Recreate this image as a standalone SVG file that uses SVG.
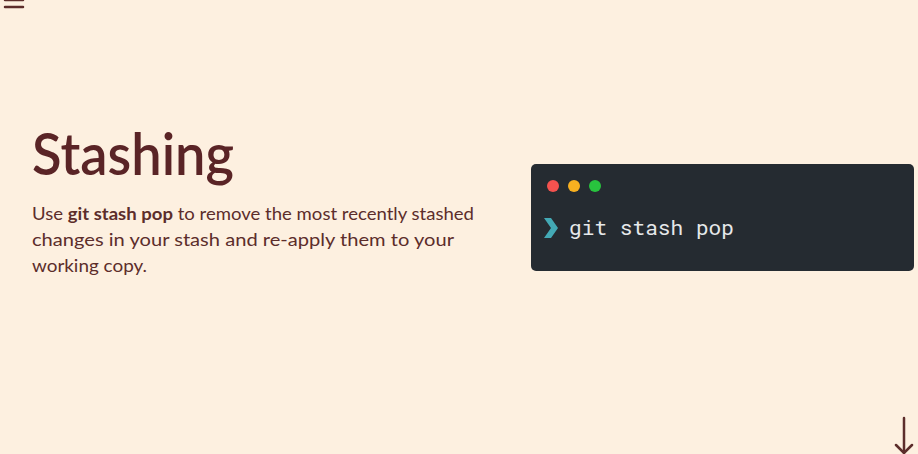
<svg xmlns="http://www.w3.org/2000/svg" width="918" height="454" viewBox="0 0 918 454">
<style>
.body{font-family:"Lato","Liberation Sans",sans-serif;font-size:17.5px;fill:#5c2d2b}
.b{font-weight:bold}
.ico{stroke:#5c2d2b;stroke-width:2.5;fill:none;stroke-linecap:round}
</style>
<rect width="918" height="454" fill="#fdf0e0"/>
<g id="menu" class="ico" stroke-width="3">
<line x1="5" y1="0" x2="23" y2="0"/>
<line x1="5" y1="7" x2="23" y2="7"/>
</g>
<g id="title">
<text x="32" y="175" font-family="Lato,'Liberation Sans',sans-serif" font-size="58" font-weight="600" fill="#5a2426" textLength="202" lengthAdjust="spacingAndGlyphs">Stashing</text>
</g>
<g id="desc" class="body">
<text x="32" y="220" textLength="442" lengthAdjust="spacingAndGlyphs">Use <tspan class="b">git stash pop</tspan> to remove the most recently stashed</text>
<text x="32" y="246" textLength="422" lengthAdjust="spacingAndGlyphs">changes in your stash and re-apply them to your</text>
<text x="32" y="272" textLength="115" lengthAdjust="spacingAndGlyphs">working copy.</text>
</g>
<g id="terminal">
<rect x="531" y="164" width="383" height="107" rx="5" fill="#252b31"/>
<circle cx="553" cy="186" r="6" fill="#f4524f"/>
<circle cx="574" cy="186" r="6" fill="#f8b020"/>
<circle cx="595" cy="186" r="6" fill="#28c33e"/>
<polygon points="544,218 551,218 558,228 551,238 544,238 551,228" fill="#43a9b5"/>
<text x="569" y="235" font-family="'Roboto Mono','DejaVu Sans Mono','Liberation Mono',monospace" font-size="21" fill="#e6e8ea" textLength="165" lengthAdjust="spacingAndGlyphs">git stash pop</text>
</g>
<g id="scroll-arrow" class="ico" stroke-width="1.6">
<line x1="904" y1="418" x2="904" y2="453"/>
<polyline points="896,445 904,453 912,445"/>
</g>
</svg>
